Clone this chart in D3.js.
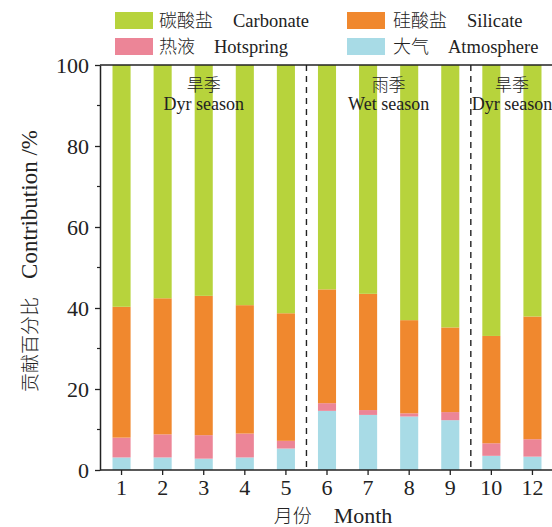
<!DOCTYPE html>
<html>
<head>
<meta charset="utf-8">
<script src="https://cdn.jsdelivr.net/npm/d3@7/dist/d3.min.js"></script>
<style>
  html, body { margin: 0; padding: 0; background: #fff; }
  svg { display: block; }
  .lat { font-family: "Liberation Serif", "Times New Roman", serif; }
  .cjk { font-family: "Noto Sans CJK SC", sans-serif; font-weight: 300; }
</style>
</head>
<body>
<svg id="chart" width="552" height="527"></svg>
<script>
// Monthly source contributions (%), stacked bottom to top
const months      = ["1", "2", "3", "4", "5", "6", "7", "8", "9", "10", "12"];
const atmosphere  = [3.1, 3.1, 2.8, 3.1, 5.3, 14.6, 13.6, 13.2, 12.3, 3.5, 3.3];
const hotspring   = [4.9, 5.7, 5.8, 5.9, 1.9, 1.9, 1.2, 0.8, 2.0, 3.1, 4.3];
const silicate    = [32.3, 33.6, 34.4, 31.7, 31.5, 28.1, 28.7, 23.0, 20.9, 26.5, 30.3];
const carbonate   = [59.7, 57.6, 57.0, 59.3, 61.3, 55.4, 56.5, 63.0, 64.8, 66.9, 62.1];
const yTicks      = [0, 20, 40, 60, 80, 100];
const yMinorTicks = [10, 30, 50, 70, 90];

const seriesKeys = ["atmosphere", "hotspring", "silicate", "carbonate"];
const seriesCn   = { carbonate: "碳酸盐", silicate: "硅酸盐", hotspring: "热液", atmosphere: "大气" };
const seriesEn   = { carbonate: "Carbonate", silicate: "Silicate", hotspring: "Hotspring", atmosphere: "Atmosphere" };
const colors     = { carbonate: "#b7d33c", silicate: "#f0882e", hotspring: "#ec8597", atmosphere: "#a8dbe6" };

// Season bands: dry (1–5), wet (6–9), dry (10–12)
const seasons = [
  { from: "1", to: "5", cn: "旱季", en: "Dyr season" },
  { from: "6", to: "9", cn: "雨季", en: "Wet season" },
  { from: "10", to: "12", cn: "旱季", en: "Dyr season" }
];

const table = months.map((m, i) => ({
  month: m,
  atmosphere: atmosphere[i],
  hotspring: hotspring[i],
  silicate: silicate[i],
  carbonate: carbonate[i]
}));

const svg = d3.select("#chart");
const plot = { left: 100, right: 553, top: 65, bottom: 470 };
const ink = "#222";

const x = d3.scaleBand()
  .domain(months)
  .range([plot.left + 1, plot.right])
  .paddingInner(0.56)
  .paddingOuter(0.28);

const y = d3.scaleLinear().domain([0, 100]).range([plot.bottom, plot.top]);

const stacked = d3.stack().keys(seriesKeys)(table);

// Bars
svg.append("g")
  .selectAll("g")
  .data(stacked)
  .join("g")
  .attr("fill", d => colors[d.key])
  .selectAll("rect")
  .data(d => d)
  .join("rect")
  .attr("x", d => x(d.data.month))
  .attr("width", x.bandwidth())
  .attr("y", d => y(d[1]))
  .attr("height", d => y(d[0]) - y(d[1]));

// Dashed season dividers
const step = x.step();
const dividerX = m => x(m) - (step - x.bandwidth()) / 2;
svg.append("g")
  .selectAll("line")
  .data(["6", "10"])
  .join("line")
  .attr("x1", dividerX).attr("x2", dividerX)
  .attr("y1", plot.top).attr("y2", plot.bottom)
  .attr("stroke", ink)
  .attr("stroke-width", 1.4)
  .attr("stroke-dasharray", "6,5");

// Season labels
const seasonG = svg.append("g");
seasons.forEach(s => {
  const cx = (x(s.from) + x(s.to) + x.bandwidth()) / 2;
  seasonG.append("text").attr("class", "cjk")
    .attr("x", cx).attr("y", 91)
    .attr("text-anchor", "middle")
    .attr("font-size", 17).attr("fill", ink)
    .text(s.cn);
  seasonG.append("text").attr("class", "lat")
    .attr("x", cx).attr("y", 110)
    .attr("text-anchor", "middle")
    .attr("font-size", 18).attr("fill", ink)
    .text(s.en);
});

// Frame: top line
svg.append("line")
  .attr("x1", plot.left).attr("x2", 552)
  .attr("y1", plot.top).attr("y2", plot.top)
  .attr("stroke", ink).attr("stroke-width", 1.5);

// Y axis
const yAxis = svg.append("g")
  .attr("transform", `translate(${plot.left},0)`)
  .call(d3.axisLeft(y).tickValues(yTicks).tickSize(5).tickPadding(6).tickSizeOuter(0));
yAxis.select(".domain").attr("stroke", ink).attr("stroke-width", 1.5);
yAxis.selectAll(".tick line").attr("stroke", ink).attr("stroke-width", 1.3);
yAxis.selectAll(".tick text")
  .attr("class", "lat").attr("font-size", 22).attr("fill", ink)
  .attr("font-family", null);

svg.append("g")
  .attr("transform", `translate(${plot.left},0)`)
  .selectAll("line")
  .data(yMinorTicks)
  .join("line")
  .attr("x1", -3).attr("x2", 0)
  .attr("y1", d => y(d)).attr("y2", d => y(d))
  .attr("stroke", ink).attr("stroke-width", 1.2);

// X axis
const xAxis = svg.append("g")
  .attr("transform", `translate(0,${plot.bottom})`)
  .call(d3.axisBottom(x).tickSize(5).tickPadding(3).tickSizeOuter(0));
xAxis.select(".domain").attr("stroke", ink).attr("stroke-width", 1.5)
  .attr("d", `M${plot.left},0H552`);
xAxis.selectAll(".tick line").attr("stroke", ink).attr("stroke-width", 1.3);
xAxis.selectAll(".tick text")
  .attr("class", "lat").attr("font-size", 22).attr("fill", ink)
  .attr("font-family", null).attr("dy", "0.75em");

// Axis titles
const xTitle = svg.append("text")
  .attr("x", 333).attr("y", 523)
  .attr("text-anchor", "middle").attr("fill", ink);
xTitle.append("tspan").attr("class", "cjk").attr("font-size", 19).text("月份");
xTitle.append("tspan").attr("class", "lat").attr("font-size", 22).attr("dx", 22).text("Month");

const yTitle = svg.append("text")
  .attr("transform", "translate(37,261) rotate(-90)")
  .attr("text-anchor", "middle").attr("fill", ink);
yTitle.append("tspan").attr("class", "cjk").attr("font-size", 19).text("贡献百分比");
yTitle.append("tspan").attr("class", "lat").attr("font-size", 23).attr("dx", 18).text("Contribution /%");

// Legend
const legendItems = [
  { key: "carbonate",  sx: 115, sy: 12, cnX: 159, enX: 233 },
  { key: "silicate",   sx: 347, sy: 12, cnX: 393, enX: 467 },
  { key: "hotspring",  sx: 115, sy: 38, cnX: 159, enX: 214 },
  { key: "atmosphere", sx: 347, sy: 38, cnX: 393, enX: 448 }
];
const legend = svg.append("g");
legendItems.forEach(it => {
  legend.append("rect")
    .attr("x", it.sx).attr("y", it.sy)
    .attr("width", 38).attr("height", 17)
    .attr("fill", colors[it.key]);
  legend.append("text").attr("class", "cjk")
    .attr("x", it.cnX).attr("y", it.sy + 15)
    .attr("font-size", 18).attr("fill", ink)
    .text(seriesCn[it.key]);
  legend.append("text").attr("class", "lat")
    .attr("x", it.enX).attr("y", it.sy + 15)
    .attr("font-size", 18.5).attr("fill", ink)
    .text(seriesEn[it.key]);
});
</script>
</body>
</html>
